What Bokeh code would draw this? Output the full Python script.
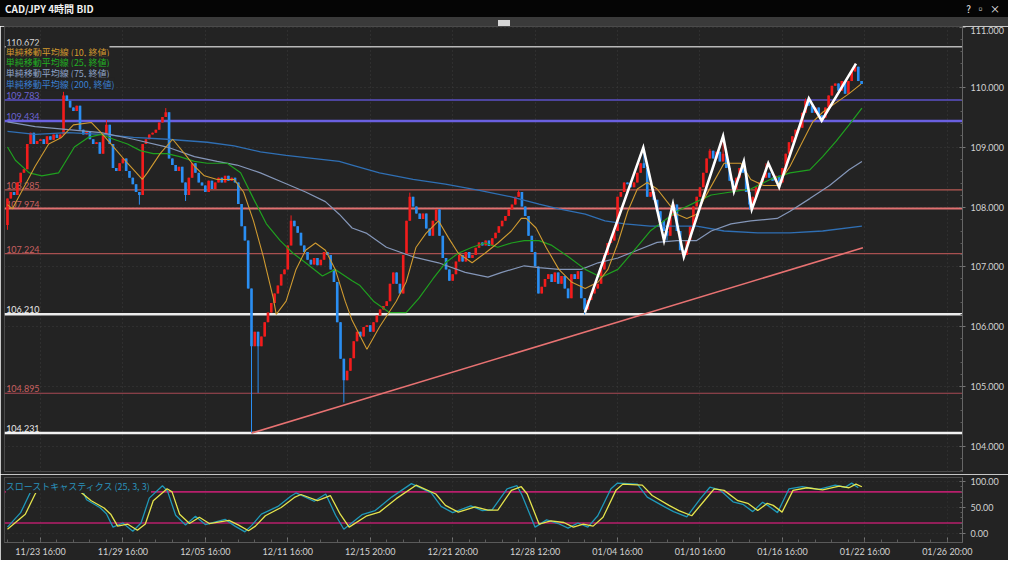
import numpy as np
from bokeh.plotting import figure
from bokeh.models import Range1d, FixedTicker, PrintfTickFormatter, Span, Label, Div, ColumnDataSource
from bokeh.layouts import column
from bokeh.core.properties import value
from bokeh.embed import file_html
from bokeh.resources import INLINE

# ---------------- data ----------------
first_open = 107.70
closes = [
    108.14, 108.25, 108.20, 108.41, 108.57, 108.63, 109.05, 109.24, 109.05, 109.10,
    109.13, 109.05, 109.18, 109.12, 109.21, 109.15, 109.21, 109.86, 109.77, 109.66,
    109.60, 109.69, 109.29, 109.21, 109.26, 109.13, 109.05, 109.08, 108.89, 109.21,
    109.37, 109.05, 108.65, 108.60, 108.73, 108.81, 108.60, 108.49, 108.38, 108.25,
    108.20, 109.05, 109.13, 109.21, 109.24, 109.29, 109.41, 109.50, 109.58, 108.81,
    108.70, 108.60, 108.67, 108.41, 108.20, 108.49, 108.73, 108.57, 108.41, 108.36,
    108.25, 108.44, 108.30, 108.41, 108.49, 108.41, 108.52, 108.44, 108.49, 108.41,
    108.05, 107.68, 107.44, 106.64, 105.68, 105.92, 105.68, 105.84, 106.08, 106.24,
    106.40, 106.56, 106.69, 106.88, 106.96, 107.36, 107.77, 107.68, 107.57, 107.36,
    107.25, 107.12, 107.04, 107.15, 107.03, 107.12, 107.25, 107.20, 106.96, 106.75,
    106.08, 105.47, 105.11, 105.27, 105.48, 105.76, 105.92, 105.84, 106.00, 106.03,
    105.92, 106.08, 106.19, 106.29, 106.35, 106.43, 106.72, 106.91, 106.72, 106.56,
    107.20, 107.77, 108.17, 108.01, 107.89, 107.80, 107.89, 107.64, 107.52, 107.77,
    107.96, 107.52, 107.15, 106.96, 106.77, 106.88, 107.09, 107.20, 107.09, 107.25,
    107.15, 107.20, 107.32, 107.41, 107.36, 107.44, 107.35, 107.48, 107.57, 107.68,
    107.77, 107.85, 107.96, 108.04, 108.17, 108.25, 108.01, 107.85, 107.52, 107.25,
    107.01, 106.56, 106.67, 106.80, 106.88, 106.75, 106.91, 106.72, 106.85, 106.64,
    106.48, 106.88, 106.80, 106.93, 106.48, 106.29, 106.45, 106.56, 106.64, 106.72,
    106.96, 107.20, 107.40, 107.44, 107.60, 108.17, 108.25, 108.41, 108.38, 108.33,
    108.41, 108.57, 108.73, 108.65, 108.17, 108.25, 108.12, 107.93, 107.77, 107.60,
    107.52, 107.85, 108.04, 107.60, 107.28, 107.20, 107.44, 107.68, 108.01, 108.17,
    108.33, 108.57, 108.81, 108.94, 108.81, 108.92, 108.76, 108.89, 108.65, 108.44,
    108.30, 108.49, 108.65, 108.57, 108.25, 108.04, 108.17, 108.33, 108.41, 108.49,
    108.57, 108.49, 108.44, 108.52, 108.41, 108.65, 108.89, 109.08, 109.18, 109.29,
    109.32, 109.57, 109.77, 109.69, 109.57, 109.66, 109.53, 109.49, 109.66, 109.86,
    110.02, 110.06, 109.94, 110.10, 109.89, 110.10, 110.26, 110.34, 110.10, 110.05,
]
high_marks = {17: 109.92, 30: 109.45, 48: 109.65, 86: 107.86, 122: 108.24, 155: 108.28,
              193: 108.97, 213: 108.97, 217: 109.16, 223: 108.76, 230: 108.73, 242: 109.81, 257: 110.39}
low_marks = {0: 107.62, 40: 108.04, 54: 108.10, 74: 104.23, 76: 104.90, 102: 104.74, 175: 106.21,
             200: 107.44, 205: 107.15, 225: 107.96, 234: 108.33, 247: 109.44}

tick_idx = [10, 35, 60, 85, 110, 135, 160, 185, 210, 235, 260, 285]
tick_labels = ["11/23 16:00", "11/29 16:00", "12/05 16:00", "12/11 16:00", "12/15 20:00",
               "12/21 20:00", "12/28 12:00", "01/04 16:00", "01/10 16:00", "01/16 16:00",
               "01/22 16:00", "01/26 20:00"]
price_ticks = [104, 105, 106, 107, 108, 109, 110, 111]
stoch_ticks = [0, 50, 100]

levels = [110.672, 109.783, 109.434, 108.285, 107.974, 107.224, 106.210, 104.895, 104.231]
level_colors = ["#b8b8b8", "#5c52c8", "#6a60e0", "#b85a55", "#e07070", "#a85050", "#ececec", "#a84a55", "#f2f2f2"]
level_widths = [1.5, 1.5, 2.5, 1.2, 2.0, 1.2, 2.5, 1.2, 2.5]
level_text_colors = ["#d8d8d8", "#6c64d0", "#6c64d0", "#c86060", "#c86060", "#c86060", "#e6e6e6", "#c86060", "#e6e6e6"]

ma10_i = [0, 1.5, 8.4, 12.5, 16.4, 20, 25.4, 28.4, 32.2, 36.4, 40.9, 42.4, 46.3, 50.1, 53.7, 56.7, 59.7, 63.6,
          68.7, 71.6, 74.6, 77.6, 80.6, 81.5, 84.5, 87.5, 90.4, 93.4, 96.4, 99.4, 102.4, 104.5, 109, 112.8,
          117.9, 120.9, 123.9, 126.9, 130.7, 133.7, 136.7, 140.9, 144.8, 148.7, 152.8, 155.8, 157.3, 160.3,
          163.3, 167.2, 171.0, 175.2, 179.1, 182.1, 185.1, 188.1, 191.0, 194.0, 197.0, 200, 203, 206, 209,
          211.3, 217.3, 222.4, 225.4, 229.3, 233.4, 237.3, 241.2, 244.2, 247.2, 251.3, 255.2, 258.8]
ma10_v = [108.04, 107.97, 108.68, 109.05, 109.16, 109.37, 109.41, 109.24, 109.00, 108.73, 108.46, 108.57,
          108.89, 109.13, 108.89, 108.68, 108.52, 108.46, 108.46, 108.25, 107.77, 107.17, 106.48, 106.21,
          106.43, 106.96, 107.28, 107.40, 107.28, 106.96, 106.43, 106.11, 105.63, 106.00, 106.43, 106.75,
          107.33, 107.56, 107.77, 107.49, 107.23, 107.07, 107.23, 107.40, 107.60, 107.81, 107.81, 107.65,
          107.33, 106.96, 106.75, 106.64, 106.75, 106.96, 107.40, 107.93, 108.30, 108.41, 108.30, 108.09,
          107.88, 107.81, 107.88, 108.14, 108.73, 108.73, 108.46, 108.36, 108.36, 108.68, 109.10, 109.42,
          109.58, 109.74, 109.89, 110.05]
ma25_i = [0, 2.4, 6.6, 10.4, 15.5, 17.3, 20.3, 24.5, 28.4, 32.2, 36.4, 40.3, 44.2, 48.4, 52.2, 56.7, 60.6,
          66.6, 70.7, 74.6, 78.5, 82.7, 86.6, 90.4, 95.5, 99.4, 104.5, 106.9, 111, 115.8, 120.9, 124.8, 129,
          132.8, 136.7, 140.9, 144.8, 148.7, 152.8, 156.7, 161.2, 165.1, 170.1, 175.2, 180, 185.1, 190.1,
          194.9, 199.1, 203, 209, 213.4, 219.4, 225.4, 231.3, 237.3, 243.3, 247.2, 251.3, 255.2, 259.1]
ma25_v = [109.00, 108.78, 108.57, 108.52, 108.57, 108.73, 109.00, 109.16, 109.21, 109.13, 109.05, 108.94,
          108.89, 108.89, 108.84, 108.76, 108.73, 108.73, 108.57, 108.14, 107.72, 107.44, 107.23, 107.07,
          106.85, 106.96, 106.77, 106.69, 106.43, 106.24, 106.24, 106.48, 106.80, 107.07, 107.23, 107.33,
          107.40, 107.33, 107.40, 107.44, 107.44, 107.36, 107.17, 106.96, 106.83, 106.96, 107.28, 107.60,
          107.77, 107.93, 108.09, 108.20, 108.25, 108.30, 108.46, 108.57, 108.62, 108.84, 109.10, 109.37, 109.65]
ma75_i = [0, 8.4, 18.5, 28.4, 38.2, 48.4, 56.7, 63.6, 69.6, 76.7, 83.6, 90.4, 96.4, 100.6, 104.5, 109, 114.9,
          123, 130.7, 138.8, 145.7, 149.9, 156.7, 161.2, 167.2, 174, 179.1, 185.1, 191, 197, 203, 209, 213.4,
          219.4, 225.4, 233.4, 237.3, 243.3, 249.3, 255.2, 259.1]
ma75_v = [109.42, 109.34, 109.29, 109.24, 109.13, 109.00, 108.84, 108.76, 108.70, 108.57, 108.41, 108.25,
          108.09, 107.88, 107.65, 107.56, 107.33, 107.17, 107.07, 106.91, 106.83, 106.91, 107.02, 106.99,
          106.96, 106.96, 107.07, 107.15, 107.28, 107.41, 107.44, 107.44, 107.60, 107.72, 107.77, 107.81,
          107.93, 108.14, 108.36, 108.62, 108.76]
ma200_i = [0, 8.4, 18.5, 28.4, 38.2, 48.4, 60.6, 68.7, 76.7, 84.5, 92.5, 100.6, 104.5, 112.8, 123, 132.8,
           142.7, 152.8, 161.2, 167.2, 175.2, 181.2, 187.2, 194.9, 203, 209, 217.3, 227.5, 237.3, 247.2, 259.1]
ma200_v = [109.26, 109.21, 109.24, 109.21, 109.16, 109.13, 109.08, 109.02, 108.92, 108.86, 108.81, 108.76,
           108.70, 108.57, 108.46, 108.38, 108.28, 108.17, 108.05, 107.97, 107.88, 107.77, 107.72, 107.68,
           107.68, 107.68, 107.60, 107.57, 107.57, 107.60, 107.68]

zigzag_i = [175.1, 192.8, 199.1, 201.8, 205.1, 217.0, 220.3, 223.3, 225.7, 230.7, 234.0, 243.0, 246.9, 257.3]
zigzag_p = [106.24, 108.99, 107.44, 108.05, 107.17, 109.18, 108.26, 108.76, 107.96, 108.73, 108.33, 109.81, 109.44, 110.39]
trend_i = [74.0, 259.4]
trend_p = [104.23, 107.32]

stoch_d_i = [0, 5.4, 8.4, 9.9, 14, 19, 21.5, 25.4, 29.3, 31.3, 33.4, 36.4, 39.4, 41.8, 44.2, 48.4, 49.9, 52.2,
             55.2, 58.2, 61.2, 67.2, 70.1, 73.1, 75.2, 78.2, 83, 87.2, 89, 94, 97.9, 100.9, 103.6, 109, 112.8,
             117.9, 123.9, 129.9, 132.8, 136.7, 141.8, 145.7, 148.7, 152.8, 155.8, 157.6, 161.2, 164.8, 168.7,
             171.6, 174.6, 177.6, 180.6, 184.5, 186.6, 192.5, 195.5, 200.6, 203.6, 207.5, 211.3, 214.3, 217.3,
             221.5, 224.5, 227.5, 230.4, 232.2, 234.9, 238.2, 242.4, 247.2, 252.2, 255.2, 257.3, 259.1]
stoch_d_v = [8, 37, 76, 93, 96, 95, 83, 63, 49, 37, 14, 18, 6, 18, 63, 86, 80, 37, 19, 31, 19, 25, 16, 5, 14,
             34, 50, 70, 75, 63, 73, 37, 12, 34, 41, 67, 93, 76, 54, 41, 51, 45, 45, 83, 90, 76, 18, 24, 21, 12,
             18, 14, 31, 83, 95, 93, 73, 54, 44, 34, 63, 86, 83, 63, 58, 44, 58, 54, 41, 83, 88, 84, 91, 88, 95, 90]
stoch_k_i = [0, 4, 7, 8.5, 14, 19, 22.5, 24, 28, 30, 32, 35, 38, 40.5, 43, 47, 48.5, 51, 54, 57, 60, 66, 69,
             72, 74, 77, 82, 86, 87.5, 93, 96.5, 99.5, 102, 107.5, 111.5, 116.5, 122.5, 128.5, 131.5, 135,
             140.5, 144, 147, 151.5, 154.5, 156, 160, 163.5, 167, 170, 173, 176, 179, 183, 185, 191, 194, 199,
             202, 206, 210, 213, 216, 220, 223, 226, 229, 231, 233.5, 237, 241, 246, 251, 254, 256, 258]
stoch_k_v = [12, 40, 80, 96, 97, 95, 86, 65, 50, 38, 12, 20, 4, 20, 68, 92, 82, 35, 16, 33, 17, 27, 14, 3, 15,
             37, 52, 72, 78, 62, 76, 35, 8, 36, 44, 70, 96, 78, 52, 40, 53, 44, 46, 86, 92, 74, 12, 26, 19, 10,
             20, 12, 34, 86, 97, 95, 70, 52, 42, 32, 66, 89, 84, 61, 56, 42, 60, 52, 40, 86, 90, 85, 93, 89, 97, 88]

legend_texts = ["単純移動平均線 (10, 終値)", "単純移動平均線 (25, 終値)", "単純移動平均線 (75, 終値)", "単純移動平均線 (200, 終値)"]
legend_colors = ["#d39a2e", "#22b022", "#8fa3c8", "#3a7fcf"]
stoch_title = "スローストキャスティクス (25, 3, 3)"

# ---------------- styling ----------------
BG = "#232323"
W = 1008
JP = "Noto Sans CJK JP"
UP, DOWN = "#f21c1c", "#2a8ef2"

opens = [first_open] + closes[:-1]
xs = list(range(len(closes)))
highs = [max(o, c, high_marks.get(i, 0.0)) for i, (o, c) in enumerate(zip(opens, closes))]
lows = [min(o, c, low_marks.get(i, 1e9)) for i, (o, c) in enumerate(zip(opens, closes))]
src = ColumnDataSource(dict(
    x=xs,
    top=[max(o, c) for o, c in zip(opens, closes)],
    bottom=[min(o, c) for o, c in zip(opens, closes)],
    high=highs, low=lows,
    color=[UP if c >= o else DOWN for o, c in zip(opens, closes)],
))

x_range = Range1d(-0.9, 289.6)

p = figure(width=W, height=448, x_range=x_range, y_range=Range1d(103.59, 111.01),
           x_axis_location=None, y_axis_location="right", toolbar_location=None,
           output_backend="svg", min_border_left=4, min_border_right=46,
           min_border_top=0, min_border_bottom=3,
           background_fill_color=BG, border_fill_color=BG, outline_line_color="#4a4a4a")

p.xgrid.ticker = FixedTicker(ticks=tick_idx)
p.ygrid.ticker = FixedTicker(ticks=price_ticks)
p.grid.grid_line_color = "#3c3c3c"
p.grid.grid_line_dash = "1 3"

ya = p.yaxis[0]
ya.ticker = FixedTicker(ticks=price_ticks, minor_ticks=list(np.round(np.arange(103.6, 111.01, 0.2), 2)))
ya.formatter = PrintfTickFormatter(format="%.3f")
ya.axis_line_color = "#666666"
ya.major_tick_line_color = "#777777"
ya.minor_tick_line_color = "#5c5c5c"
ya.major_tick_in, ya.major_tick_out = 3, 3
ya.minor_tick_in, ya.minor_tick_out = 2, 0
ya.major_label_text_color = "#d2d2d2"
ya.major_label_text_font = "Lato"
ya.major_label_text_font_size = "9px"
ya.major_label_standoff = 5

for v, col, w in zip(levels, level_colors, level_widths):
    p.add_layout(Span(location=v, dimension="width", line_color=col, line_width=w, level="underlay"))

p.text(x=[-0.4] * len(levels), y=levels, text=[f"{v:.3f}" for v in levels],
       text_color=level_text_colors, text_font=value("Lato"), text_font_size="9px",
       text_baseline="bottom", y_offset=-1)

p.segment(x0="x", y0="low", x1="x", y1="high", line_color="color", line_width=1, source=src)
p.vbar(x="x", width=0.8, top="top", bottom="bottom", fill_color="color", line_color=None, source=src)

p.line(ma200_i, ma200_v, line_color="#2f6fb4", line_width=1.3)
p.line(ma75_i, ma75_v, line_color="#8496b8", line_width=1.2)
p.line(ma25_i, ma25_v, line_color="#1fa01f", line_width=1.2)
p.line(ma10_i, ma10_v, line_color="#cf9a30", line_width=1.1)

p.line(trend_i, trend_p, line_color="#e87272", line_width=1.6)
p.line(zigzag_i, zigzag_p, line_color="#ffffff", line_width=2.6, line_join="miter")

for k, (txt, col) in enumerate(zip(legend_texts, legend_colors)):
    p.add_layout(Label(x=-0.5, y=111.01, y_offset=-(25.5 + 10.7 * k), text=txt, text_color=col,
                       text_font=JP, text_font_size="9px", text_baseline="middle",
                       background_fill_color=BG))

# ---------------- stochastics panel ----------------
p2 = figure(width=W, height=86, x_range=x_range, y_range=Range1d(-17.6, 107.8),
            y_axis_location="right", toolbar_location=None, output_backend="svg",
            min_border_left=4, min_border_right=46, min_border_top=3, min_border_bottom=18,
            background_fill_color=BG, border_fill_color=BG, outline_line_color="#4a4a4a")
p2.xgrid.ticker = FixedTicker(ticks=tick_idx)
p2.ygrid.ticker = FixedTicker(ticks=stoch_ticks)
p2.grid.grid_line_color = "#363636"
p2.grid.grid_line_dash = "1 3"

xa = p2.xaxis[0]
xa.ticker = FixedTicker(ticks=tick_idx, minor_ticks=list(range(0, 290, 5)))
xa.major_label_overrides = {t: s for t, s in zip(tick_idx, tick_labels)}
xa.axis_line_color = "#5a5a5a"
xa.major_tick_line_color = "#777777"
xa.minor_tick_line_color = "#5c5c5c"
xa.major_tick_in, xa.major_tick_out = 5, 0
xa.minor_tick_in, xa.minor_tick_out = 3, 0
xa.major_label_text_color = "#d2d2d2"
xa.major_label_text_font = "Lato"
xa.major_label_text_font_size = "9px"
xa.major_label_standoff = 3

ya2 = p2.yaxis[0]
ya2.ticker = FixedTicker(ticks=stoch_ticks, minor_ticks=list(range(0, 101, 10)))
ya2.formatter = PrintfTickFormatter(format="%.2f")
ya2.axis_line_color = "#666666"
ya2.major_tick_line_color = "#777777"
ya2.minor_tick_line_color = "#5c5c5c"
ya2.major_tick_in, ya2.major_tick_out = 3, 3
ya2.minor_tick_in, ya2.minor_tick_out = 2, 0
ya2.major_label_text_color = "#d2d2d2"
ya2.major_label_text_font = "Lato"
ya2.major_label_text_font_size = "9px"
ya2.major_label_standoff = 5

for lvl in (80, 20):
    p2.add_layout(Span(location=lvl, dimension="width", line_color="#b81f6c", line_width=1.6, level="underlay"))

p2.line(stoch_k_i, stoch_k_v, line_color="#1f98b8", line_width=1.3)
p2.line(stoch_d_i, stoch_d_v, line_color="#e4e44c", line_width=1.3)

p2.add_layout(Label(x=-0.5, y=107.8, y_offset=-9, text=stoch_title, text_color="#2a92bc",
                    text_font=JP, text_font_size="9px", text_baseline="middle",
                    background_fill_color=BG))

# ---------------- window chrome ----------------
title_div = Div(
    text=('<div style="position:relative;width:1008px;height:17px;line-height:17px;">'
          '<span style="position:absolute;left:5px;top:0;font-weight:bold;">CAD/JPY 4時間 BID</span>'
          '<span style="position:absolute;right:8px;top:0;">?&nbsp;&nbsp;&#9643;&nbsp;&nbsp;&#215;</span></div>'),
    width=W, height=17, margin=(0, 0, 0, 0),
    styles={"background-color": "#050505", "color": "#f0f0f0",
            "font-family": "'Noto Sans CJK JP'", "font-size": "10px"})
band_div = Div(
    text='<div style="width:1008px;height:9px;"><div style="width:12px;height:7px;margin:1px auto 0 auto;background:#d6d6d6;"></div></div>',
    width=W, height=9, margin=(0, 0, 0, 0),
    styles={"background-color": "#3a3a3a"})

layout = column(title_div, band_div, p, p2, spacing=0)

open("out.html", "w").write(file_html(layout, INLINE))
